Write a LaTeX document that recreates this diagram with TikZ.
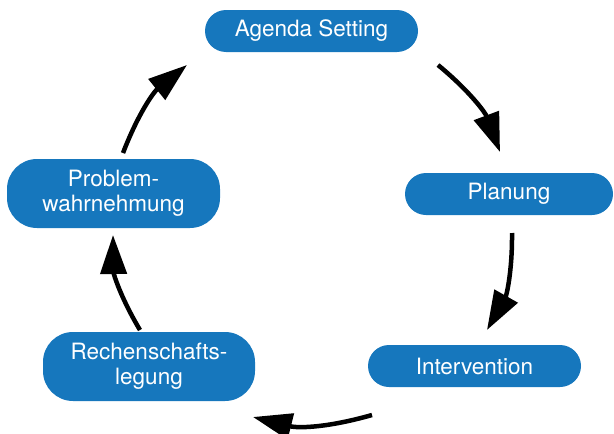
\documentclass[tikz,border=0pt]{standalone}
\usepackage{fontspec}
\setmainfont{TeX Gyre Heros}
\usetikzlibrary{arrows.meta}
\definecolor{boxblue}{RGB}{22,119,189}
\tikzset{
  stage/.style={fill=boxblue, text=white, inner sep=0pt, align=center,
    minimum width=213pt, minimum height=42pt, rounded corners=21pt,
    font=\fontsize{22.5}{25}\selectfont},
  tallstage/.style={stage, minimum height=69pt, rounded corners=30pt},
  cyclearrow/.style={line width=4.5pt, -{Triangle[length=39pt,width=26pt]}, bend left=15}
}
\begin{document}
\begin{tikzpicture}[x=1pt,y=-1pt]
\useasboundingbox (0,0) rectangle (614,434);
\node[stage] (agenda) at (311.5,31) {Agenda Setting};
\node[stage, minimum width=208pt] (planung) at (509,194) {Planung};
\node[stage] (intervention) at (474.5,366) {Intervention};
\node[tallstage, minimum width=212pt] (rechenschaft) at (149,366.5) {Rechenschafts-\\legung};
\node[tallstage] (problem) at (113.5,193.5) {Problem-\\wahrnehmung};
\coordinate (a1s) at (438,65);  \coordinate (a1e) at (500,152);
\coordinate (a2s) at (512,233); \coordinate (a2e) at (487,330);
\coordinate (a3s) at (372,415); \coordinate (a3e) at (253,417);
\coordinate (a4s) at (140,330); \coordinate (a4e) at (113,235);
\coordinate (a5s) at (123,153); \coordinate (a5e) at (187,65);
\draw[cyclearrow] (a1s) to (a1e);
\draw[cyclearrow] (a2s) to (a2e);
\draw[cyclearrow] (a3s) to (a3e);
\draw[cyclearrow] (a4s) to (a4e);
\draw[cyclearrow] (a5s) to (a5e);
\end{tikzpicture}
\end{document}
